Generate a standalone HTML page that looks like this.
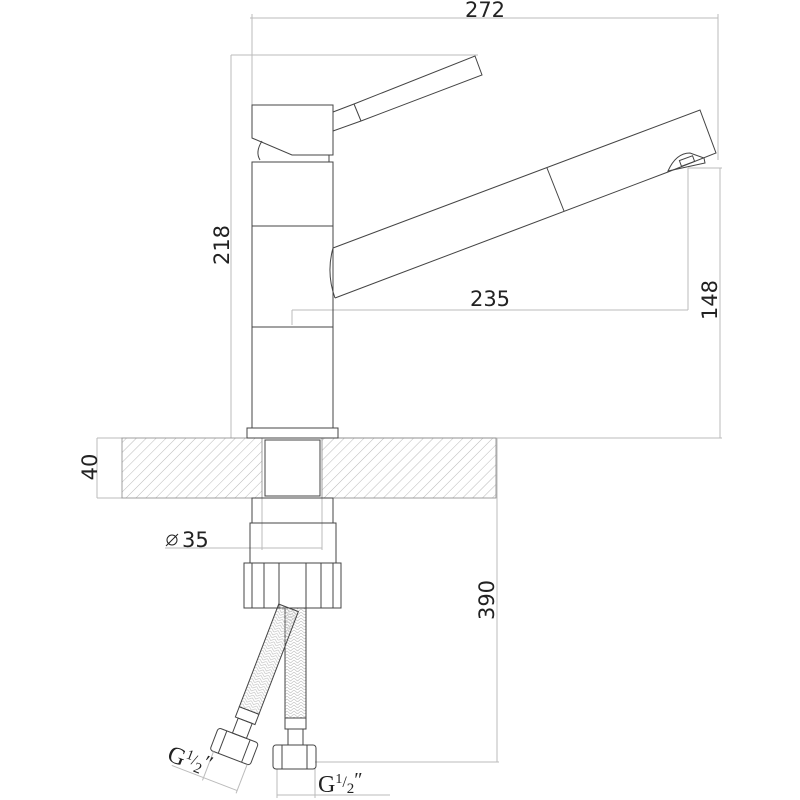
<!DOCTYPE html>
<html><head><meta charset="utf-8"><style>html,body{margin:0;padding:0;background:#fff}svg{display:block}</style></head>
<body>
<svg width="800" height="800" viewBox="0 0 800 800" xmlns="http://www.w3.org/2000/svg" font-family="DejaVu Sans, Liberation Sans, sans-serif">
<defs>
<pattern id="h" width="7" height="7" patternUnits="userSpaceOnUse" patternTransform="rotate(45)">
<line x1="0" y1="0" x2="0" y2="7" stroke="#a8a8a8" stroke-width="0.8"/>
</pattern>
<pattern id="br" width="7" height="6" patternUnits="userSpaceOnUse">
<path d="M0 0 L3.5 3 L7 0 M0 3 L3.5 6 L7 3" fill="none" stroke="#bbb" stroke-width="0.6"/>
</pattern>
</defs>
<g fill="none" stroke="#bbb" stroke-width="1">
<line x1="250" y1="18" x2="718" y2="18"/>
<line x1="252" y1="14" x2="252" y2="105"/>
<line x1="718" y1="14" x2="718" y2="160"/>
<line x1="231" y1="55" x2="231" y2="438"/>
<line x1="231" y1="55" x2="478" y2="55"/>
<line x1="720" y1="168" x2="720" y2="438"/>
<line x1="688" y1="168" x2="722" y2="168"/>
<line x1="688" y1="168" x2="688" y2="310"/>
<line x1="292" y1="310" x2="688" y2="310"/>
<line x1="292" y1="310" x2="292" y2="325"/>
<line x1="338" y1="438" x2="722" y2="438"/>
<line x1="97" y1="438" x2="97" y2="498"/>
<line x1="97" y1="438" x2="122" y2="438"/>
<line x1="97" y1="498" x2="122" y2="498"/>
<line x1="497" y1="438" x2="497" y2="762"/>
<line x1="315" y1="762" x2="499" y2="762"/>
<line x1="165" y1="548" x2="322" y2="548"/>
<line x1="262" y1="498" x2="262" y2="550"/>
<line x1="322" y1="498" x2="322" y2="550"/>
<line x1="277" y1="769" x2="277" y2="798"/>
<line x1="315" y1="769" x2="315" y2="798"/>
<line x1="277" y1="795" x2="390" y2="795"/>
</g>
<rect x="122" y="438" width="140" height="60" fill="url(#h)" stroke="#888" stroke-width="0.8"/>
<rect x="322" y="438" width="174" height="60" fill="url(#h)" stroke="#888" stroke-width="0.8"/>
<g fill="none" stroke="#444" stroke-width="1">
<rect x="265" y="440" width="55" height="56"/>
<rect x="252" y="162" width="81" height="266"/>
<line x1="252" y1="226" x2="333" y2="226"/>
<line x1="252" y1="327" x2="333" y2="327"/>
<rect x="247" y="428" width="91" height="10"/>
<path d="M260 160 Q255 152 262 141"/>
<line x1="329" y1="155" x2="329" y2="162"/>
<path d="M252 105 L333 105 L333 155 L292 155 L252 138 Z"/>
<path d="M333 112 L354 104 L475 56 L482 75 L361 121 L333 131"/>
<line x1="354" y1="104" x2="361" y2="121"/>
<path d="M333 248 L700 110 L716 153 L668 172 L335 298"/>
<path d="M335 298 Q326 273 333 248"/>
<line x1="547" y1="168" x2="564" y2="211"/>
<path d="M668 171 Q676 153 690 153 L704 158 L705 163 Z"/>
<rect x="680" y="158" width="14" height="6" transform="rotate(-20 687 161)"/>
<rect x="252" y="498" width="81" height="25"/>
<rect x="250" y="523" width="86" height="40"/>
<rect x="244" y="563" width="97" height="45"/>
<line x1="252" y1="563" x2="252" y2="608"/>
<line x1="264" y1="563" x2="264" y2="608"/>
<line x1="279" y1="563" x2="279" y2="608"/>
<line x1="306" y1="563" x2="306" y2="608"/>
<line x1="321" y1="563" x2="321" y2="608"/>
<line x1="333" y1="563" x2="333" y2="608"/>
<rect x="285" y="608" width="21" height="110" fill="url(#br)"/>
<rect x="285" y="718" width="21" height="11"/>
<rect x="288" y="729" width="15" height="16"/>
<rect x="273" y="745" width="43" height="24" rx="3"/>
<line x1="282" y1="745" x2="282" y2="769"/>
<line x1="307" y1="745" x2="307" y2="769"/>
<g transform="rotate(21 289 608)">
<rect x="278" y="608" width="21" height="110" fill="url(#br)"/>
<rect x="278" y="718" width="21" height="11"/>
<rect x="281" y="729" width="15" height="16"/>
<rect x="266" y="745" width="43" height="24" rx="3"/>
<line x1="275" y1="745" x2="275" y2="769"/>
<line x1="300" y1="745" x2="300" y2="769"/>
<line x1="270" y1="769" x2="270" y2="800" stroke="#bbb"/>
<line x1="306" y1="769" x2="306" y2="800" stroke="#bbb"/>
<line x1="236" y1="797" x2="306" y2="797" stroke="#bbb"/>
</g>
</g>
<g fill="#222" font-size="21">
<text x="485" y="17" text-anchor="middle">272</text>
<text x="490" y="306" text-anchor="middle">235</text>
<text transform="translate(229 245) rotate(-90)" text-anchor="middle">218</text>
<text transform="translate(717 300) rotate(-90)" text-anchor="middle">148</text>
<text transform="translate(97 467) rotate(-90)" text-anchor="middle">40</text>
<text transform="translate(494 600) rotate(-90)" text-anchor="middle">390</text>
<text x="182" y="547">35</text>
</g>
<circle cx="172" cy="540" r="5" fill="none" stroke="#222" stroke-width="1"/>
<line x1="166" y1="546" x2="178" y2="534" stroke="#222" stroke-width="1"/>
<g font-family="Liberation Serif, serif" fill="#222">
<text x="318" y="792" font-size="24">G<tspan font-size="14" dy="-9">1</tspan><tspan font-size="16" dy="4">/</tspan><tspan font-size="15" dy="6">2</tspan><tspan font-size="20" dy="-7">″</tspan></text>
<text transform="translate(166 760) rotate(21)" font-size="24">G<tspan font-size="14" dy="-9">1</tspan><tspan font-size="16" dy="4">/</tspan><tspan font-size="15" dy="6">2</tspan><tspan font-size="20" dy="-7">″</tspan></text>
</g>
</svg>
</body></html>
